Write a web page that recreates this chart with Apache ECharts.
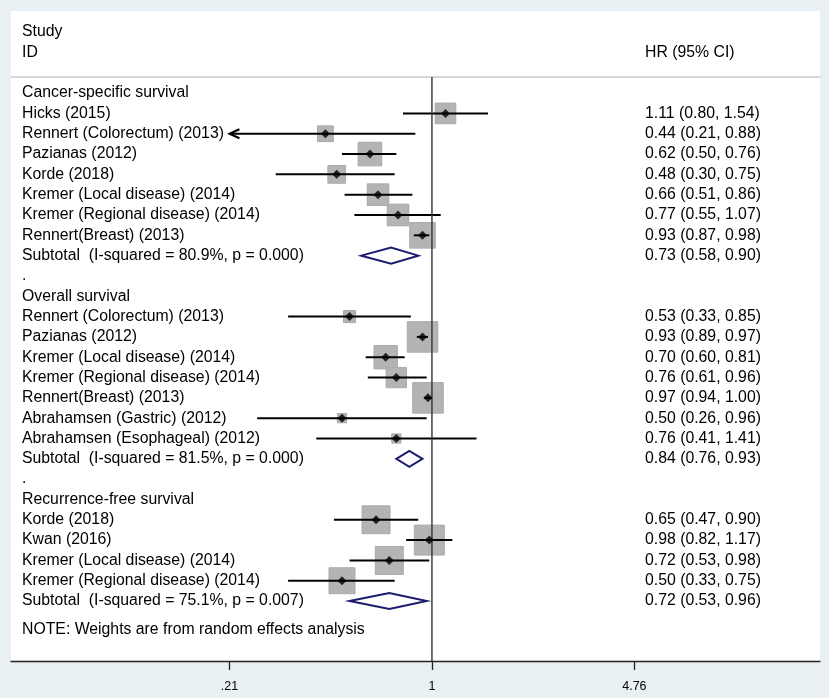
<!DOCTYPE html>
<html>
<head>
<meta charset="utf-8">
<script src="https://cdn.jsdelivr.net/npm/echarts@6/dist/echarts.min.js"></script>
<style>
  html, body { margin: 0; padding: 0; background: #e9f0f3; }
  #chart { width: 829px; height: 698px; }
</style>
</head>
<body>
<div id="chart"></div>
<script>
// studies (row = line number from the first group title)
var studyNames = [
    'Hicks (2015)', 'Rennert (Colorectum) (2013)', 'Pazianas (2012)', 'Korde (2018)',
    'Kremer (Local disease) (2014)', 'Kremer (Regional disease) (2014)', 'Rennert(Breast) (2013)',
    'Rennert (Colorectum) (2013)', 'Pazianas (2012)', 'Kremer (Local disease) (2014)',
    'Kremer (Regional disease) (2014)', 'Rennert(Breast) (2013)', 'Abrahamsen (Gastric) (2012)',
    'Abrahamsen (Esophageal) (2012)',
    'Korde (2018)', 'Kwan (2016)', 'Kremer (Local disease) (2014)', 'Kremer (Regional disease) (2014)'
];
var studyRows = [1, 2, 3, 4, 5, 6, 7, 11, 12, 13, 14, 15, 16, 17, 21, 22, 23, 24];
var studyHr = [1.11, 0.44, 0.62, 0.48, 0.66, 0.77, 0.93, 0.53, 0.93, 0.70, 0.76, 0.97, 0.50, 0.76, 0.65, 0.98, 0.72, 0.50];
var studyLo = [0.80, 0.21, 0.50, 0.30, 0.51, 0.55, 0.87, 0.33, 0.89, 0.60, 0.61, 0.94, 0.26, 0.41, 0.47, 0.82, 0.53, 0.33];
var studyHi = [1.54, 0.88, 0.76, 0.75, 0.86, 1.07, 0.98, 0.85, 0.97, 0.81, 0.96, 1.00, 0.96, 1.41, 0.90, 1.17, 0.98, 0.75];
var studyWeight = [13.6, 7.9, 17.8, 10.0, 14.9, 14.9, 20.9, 4.7, 29.7, 17.4, 13.2, 29.7, 2.7, 2.7, 24.9, 28.6, 24.9, 21.5];
var clippedLeft = [0, 1, 0, 0, 0, 0, 0, 0, 0, 0, 0, 0, 0, 0, 0, 0, 0, 0];

// subgroup pooled estimates
var subtotalNames = [
    'Subtotal  (I-squared = 80.9%, p = 0.000)',
    'Subtotal  (I-squared = 81.5%, p = 0.000)',
    'Subtotal  (I-squared = 75.1%, p = 0.007)'
];
var subtotalRows = [8, 18, 25];
var subtotalHr = [0.73, 0.84, 0.72];
var subtotalLo = [0.58, 0.76, 0.53];
var subtotalHi = [0.90, 0.93, 0.96];

// group titles and other text lines
var groupNames = ['Cancer-specific survival', '.', 'Overall survival', '.', 'Recurrence-free survival'];
var groupRows = [0, 9, 10, 19, 20];
var headerLeft = ['Study', 'ID'];
var headerLeftRows = [-3, -2];
var headerRight = 'HR (95% CI)';
var headerRightRow = -2;
var noteText = 'NOTE: Weights are from random effects analysis';
var noteRow = 26.42;
var separatorRow = -0.79;

var tickValues = [0.21, 1, 4.76];
var tickLabels = ['.21', '1', '4.76'];

var FONT = '"Liberation Sans", Arial, sans-serif';
var xMin = Math.log(0.039), xMax = Math.log(19.9);
var yMin = -4.04, yMax = 27.95;

function fmt(hr, lo, hi) {
    return hr.toFixed(2) + ' (' + lo.toFixed(2) + ', ' + hi.toFixed(2) + ')';
}

// text lines: [row, column(0 left / 1 right)]
var textItems = [];
var textStrings = [];
function addText(row, col, str) {
    textItems.push([0, row, col]);
    textStrings.push(str);
}
for (var i = 0; i < headerLeft.length; i++) addText(headerLeftRows[i], 0, headerLeft[i]);
addText(headerRightRow, 1, headerRight);
for (var i = 0; i < groupNames.length; i++) addText(groupRows[i], 0, groupNames[i]);
for (var i = 0; i < studyNames.length; i++) {
    addText(studyRows[i], 0, studyNames[i]);
    addText(studyRows[i], 1, fmt(studyHr[i], studyLo[i], studyHi[i]));
}
for (var i = 0; i < subtotalNames.length; i++) {
    addText(subtotalRows[i], 0, subtotalNames[i]);
    addText(subtotalRows[i], 1, fmt(subtotalHr[i], subtotalLo[i], subtotalHi[i]));
}
addText(noteRow, 0, noteText);

var boxData = [], ciData = [], pointData = [];
for (var i = 0; i < studyNames.length; i++) {
    boxData.push([Math.log(studyHr[i]), studyRows[i], studyWeight[i]]);
    ciData.push([Math.log(studyLo[i]), studyRows[i], Math.log(studyHi[i]), clippedLeft[i]]);
    pointData.push([Math.log(studyHr[i]), studyRows[i]]);
}
var diamondData = [];
for (var i = 0; i < subtotalNames.length; i++) {
    diamondData.push([Math.log(subtotalHr[i]), subtotalRows[i], Math.log(subtotalLo[i]), Math.log(subtotalHi[i])]);
}

var chart = echarts.init(document.getElementById('chart'));
var option = {
    animation: false,
    backgroundColor: '#e9f0f3',
    grid: {left: 11, right: 9, top: 11, bottom: 37, show: true, backgroundColor: '#ffffff', borderWidth: 0},
    xAxis: {
        type: 'value',
        min: xMin,
        max: xMax,
        axisLine: {show: true, onZero: false, lineStyle: {color: '#222', width: 1.3}},
        axisTick: {show: true, customValues: tickValues.map(Math.log), length: 9, lineStyle: {color: '#222', width: 1.3}},
        axisLabel: {
            customValues: tickValues.map(Math.log),
            margin: 19,
            fontSize: 12.5,
            color: '#000',
            fontFamily: FONT,
            formatter: function (v) {
                for (var k = 0; k < tickValues.length; k++) {
                    if (Math.abs(Math.log(tickValues[k]) - v) < 1e-6) return tickLabels[k];
                }
                return '';
            }
        },
        splitLine: {show: false}
    },
    yAxis: {type: 'value', inverse: true, min: yMin, max: yMax, show: false},
    series: [
        {
            // header separator
            type: 'custom',
            data: [[0, separatorRow]],
            z: 1,
            renderItem: function (params, api) {
                var y = api.coord([0, api.value(1)])[1];
                var cs = params.coordSys;
                return {type: 'line', shape: {x1: cs.x, y1: y, x2: cs.x + cs.width, y2: y},
                    style: {stroke: '#c8c8c8', lineWidth: 1.5}};
            }
        },
        {
            // weight boxes
            type: 'custom',
            data: boxData,
            z: 2,
            renderItem: function (params, api) {
                var p = api.coord([api.value(0), api.value(1)]);
                var s = 5.6 * Math.sqrt(api.value(2));
                return {type: 'rect', shape: {x: p[0] - s / 2, y: p[1] - s / 2, width: s, height: s},
                    style: {fill: '#b4b4b4', stroke: '#a9a9a9', lineWidth: 1}};
            }
        },
        {
            // confidence intervals
            type: 'custom',
            data: ciData,
            z: 3,
            renderItem: function (params, api) {
                var row = api.value(1);
                var p1 = api.coord([api.value(0), row]);
                var p2 = api.coord([api.value(2), row]);
                var children = [{type: 'line', shape: {x1: p1[0], y1: p1[1], x2: p2[0], y2: p2[1]},
                    style: {stroke: '#000', lineWidth: 2}}];
                if (api.value(3)) {
                    children.push({type: 'polyline',
                        shape: {points: [[p1[0] + 10, p1[1] - 4.5], [p1[0], p1[1]], [p1[0] + 10, p1[1] + 4.5]]},
                        style: {stroke: '#000', lineWidth: 2, fill: null}});
                }
                return {type: 'group', children: children};
            }
        },
        {
            // reference line at HR = 1
            type: 'custom',
            data: [[0, separatorRow]],
            z: 4,
            renderItem: function (params, api) {
                var top = api.coord([api.value(0), api.value(1)]);
                var bottom = api.coord([api.value(0), yMax]);
                return {type: 'line', shape: {x1: top[0], y1: top[1], x2: bottom[0], y2: bottom[1]},
                    style: {stroke: '#333', lineWidth: 1.4}};
            }
        },
        {
            // point estimates
            type: 'scatter',
            data: pointData,
            symbol: 'diamond',
            symbolSize: [9, 9],
            itemStyle: {color: '#000'},
            z: 5
        },
        {
            // pooled diamonds
            type: 'custom',
            data: diamondData,
            z: 5,
            renderItem: function (params, api) {
                var row = api.value(1);
                var c = api.coord([api.value(0), row]);
                var l = api.coord([api.value(2), row]);
                var r = api.coord([api.value(3), row]);
                return {type: 'polygon',
                    shape: {points: [[l[0], l[1]], [c[0], c[1] - 8], [r[0], r[1]], [c[0], c[1] + 8]]},
                    style: {fill: '#fff', stroke: '#1b1c6e', lineWidth: 2}};
            }
        },
        {
            // text columns
            type: 'custom',
            data: textItems,
            z: 6,
            renderItem: function (params, api) {
                var y = api.coord([0, api.value(1)])[1];
                var cs = params.coordSys;
                var x = api.value(2) ? cs.x + 634 : cs.x + 11;
                return {type: 'text', x: x, y: y,
                    style: {text: textStrings[params.dataIndex], fill: '#000', fontSize: 15.8,
                        fontFamily: FONT, verticalAlign: 'middle', align: 'left'}};
            }
        }
    ]
};
chart.setOption(option);
</script>
</body>
</html>
